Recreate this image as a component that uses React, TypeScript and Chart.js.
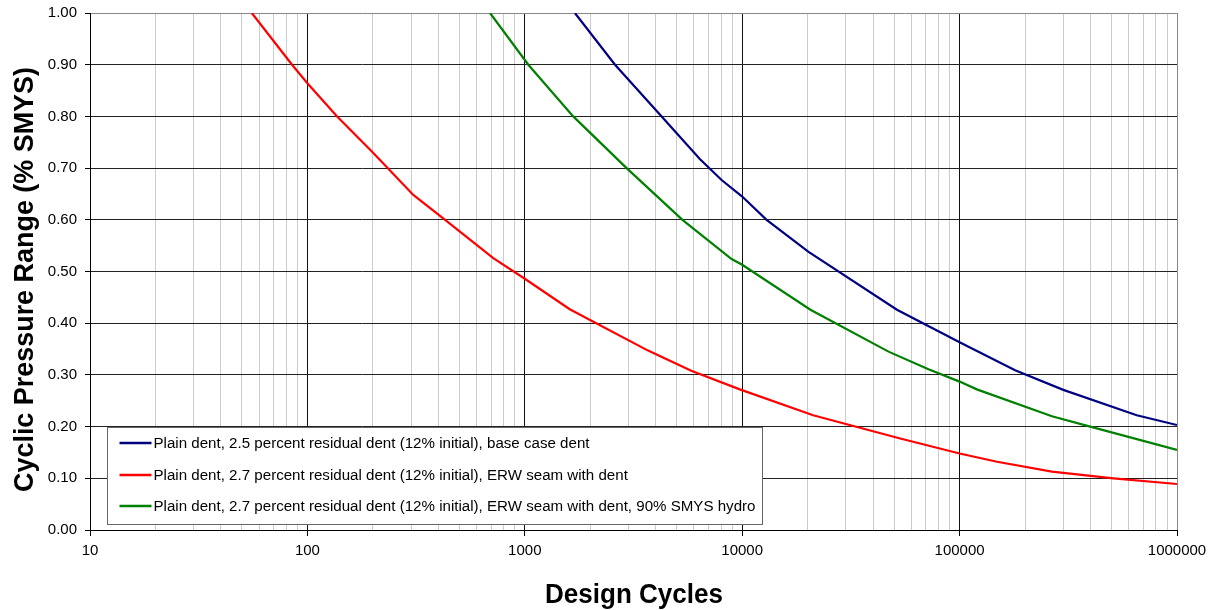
import React, { useEffect, useRef } from "react";
import { Chart, registerables } from "chart.js";

Chart.register(...registerables);

const FONT = '"Liberation Sans", Arial, sans-serif';

const seriesLabels = [
  "Plain dent, 2.5 percent residual dent (12% initial), base case dent",
  "Plain dent, 2.7 percent residual dent (12% initial), ERW seam with dent",
  "Plain dent, 2.7 percent residual dent (12% initial), ERW seam with dent, 90% SMYS hydro",
];
const seriesColors = ["#000080", "#ff0000", "#008000"];

const baseCycles = [1700, 2600, 4190, 6400, 8040, 10000, 12950, 20200, 51500, 100000, 180000, 300000, 653000, 1000000];
const baseRange = [1.0, 0.9, 0.803, 0.717, 0.677, 0.645, 0.6, 0.538, 0.426, 0.363, 0.309, 0.271, 0.222, 0.203];

const erwCycles = [55.5, 85, 100, 137, 198, 307, 430, 716, 1000, 1610, 3690, 5830, 9750, 21200, 53300, 100000, 148600, 266000, 510000, 1000000];
const erwRange = [1.0, 0.9, 0.864, 0.8, 0.732, 0.648, 0.6, 0.526, 0.486, 0.427, 0.347, 0.308, 0.272, 0.222, 0.177, 0.148, 0.132, 0.113, 0.1, 0.089];

const hydroCycles = [692, 1038, 1670, 2940, 5310, 8940, 10000, 20600, 47100, 71900, 100000, 120000, 266000, 391000, 1000000];
const hydroRange = [1.0, 0.9, 0.8, 0.7, 0.6, 0.524, 0.513, 0.426, 0.345, 0.311, 0.287, 0.272, 0.22, 0.201, 0.155];

const xMin = 10;
const xMax = 1000000;
const yMin = 0;
const yMax = 1;
const yStep = 0.1;

const xTitle = "Design Cycles";
const yTitle = "Cyclic Pressure Range (% SMYS)";

function toPoints(xs: number[], ys: number[]) {
  return xs.map((x, i) => ({ x, y: ys[i] }));
}

function isPow10(v: number) {
  const l = Math.log10(v);
  return Math.abs(l - Math.round(l)) < 1e-9;
}

const decorPlugin = {
  id: "decor",
  afterDatasetsDraw(chart: any) {
    const { ctx, chartArea } = chart;
    const boxL = chartArea.left + 17.5;
    const boxT = chartArea.bottom - 102.5;
    const boxW = 655;
    const boxH = 97;
    ctx.save();
    ctx.fillStyle = "#ffffff";
    ctx.fillRect(boxL, boxT, boxW, boxH);
    ctx.strokeStyle = "#666666";
    ctx.lineWidth = 1;
    ctx.strokeRect(boxL, boxT, boxW, boxH);
    ctx.font = `14px ${FONT}`;
    const widest = Math.max(...seriesLabels.map((s) => ctx.measureText(s).width));
    const sx = 602 / widest;
    const rowOffsets = [15.5, 47.5, 78.5];
    chart.data.datasets.forEach((ds: any, i: number) => {
      const y = boxT + rowOffsets[i];
      ctx.strokeStyle = ds.borderColor;
      ctx.lineWidth = 2.5;
      ctx.beginPath();
      ctx.moveTo(boxL + 12, y);
      ctx.lineTo(boxL + 44, y);
      ctx.stroke();
      ctx.save();
      ctx.translate(boxL + 46, y);
      ctx.scale(sx, 1);
      ctx.fillStyle = "#000";
      ctx.textAlign = "left";
      ctx.textBaseline = "middle";
      ctx.fillText(ds.label, 0, 1);
      ctx.restore();
    });
    ctx.restore();
  },
  afterDraw(chart: any) {
    const { ctx, chartArea } = chart;
    ctx.save();
    ctx.fillStyle = "#000";
    ctx.font = `bold 27px ${FONT}`;
    ctx.textAlign = "center";
    ctx.textBaseline = "alphabetic";
    const wx = ctx.measureText(xTitle).width;
    ctx.save();
    ctx.translate((chartArea.left + chartArea.right) / 2 + 0.5, chartArea.bottom + 73);
    ctx.scale(178 / wx, 1);
    ctx.fillText(xTitle, 0, 0);
    ctx.restore();
    const wy = ctx.measureText(yTitle).width;
    ctx.save();
    ctx.translate(chartArea.left - 57, (chartArea.top + chartArea.bottom) / 2 + 8);
    ctx.rotate(-Math.PI / 2);
    ctx.scale(425 / wy, 1);
    ctx.fillText(yTitle, 0, 0);
    ctx.restore();
    ctx.restore();
  },
};

export default function App() {
  const canvasRef = useRef<HTMLCanvasElement | null>(null);

  useEffect(() => {
    const canvas = canvasRef.current;
    if (!canvas) return;
    const chart = new Chart(canvas, {
      type: "line",
      data: {
        datasets: [
          { label: seriesLabels[0], data: toPoints(baseCycles, baseRange), borderColor: seriesColors[0], backgroundColor: seriesColors[0] },
          { label: seriesLabels[1], data: toPoints(erwCycles, erwRange), borderColor: seriesColors[1], backgroundColor: seriesColors[1] },
          { label: seriesLabels[2], data: toPoints(hydroCycles, hydroRange), borderColor: seriesColors[2], backgroundColor: seriesColors[2] },
        ].map((d) => ({ ...d, borderWidth: 2.2, pointRadius: 0, tension: 0, fill: false })),
      },
      options: {
        responsive: false,
        animation: false,
        layout: { padding: { left: 0, top: 13, right: 41, bottom: 0 } },
        plugins: {
          legend: { display: false },
          tooltip: { enabled: false },
        },
        scales: {
          x: {
            type: "logarithmic",
            min: xMin,
            max: xMax,
            afterFit: (scale: any) => {
              scale.height = 80;
              scale.paddingLeft = 0;
              scale.paddingRight = 0;
            },
            afterBuildTicks: (scale: any) => {
              scale.ticks = scale.ticks.filter((t: any) => {
                const p = Math.pow(10, Math.floor(Math.log10(t.value) + 1e-9));
                const r = t.value / p;
                return Math.abs(r - Math.round(r)) < 1e-6;
              });
            },
            ticks: {
              autoSkip: false,
              maxRotation: 0,
              minRotation: 0,
              padding: 6,
              color: "#000",
              font: { family: FONT, size: 15 },
              callback: (v: any) => (isPow10(Number(v)) ? String(Math.round(Number(v))) : ""),
            },
            grid: {
              tickLength: 6,
              color: (c: any) => {
                const v = c.tick ? c.tick.value : 0;
                if (!isPow10(v)) return "#cccccc";
                return v === xMax ? "#888888" : "#111111";
              },
              tickColor: (c: any) => (c.tick && isPow10(c.tick.value) ? "#000" : "rgba(0,0,0,0)"),
            },
            border: { color: "#000", width: 1 },
          },
          y: {
            type: "linear",
            min: yMin,
            max: yMax,
            afterFit: (scale: any) => {
              scale.width = 90;
              scale.paddingTop = 0;
              scale.paddingBottom = 0;
            },
            ticks: {
              stepSize: yStep,
              padding: 8,
              color: "#000",
              font: { family: FONT, size: 15 },
              callback: (v: any) => Number(v).toFixed(2),
            },
            grid: {
              tickLength: 5,
              color: (c: any) => (c.tick && Math.abs(c.tick.value - yMax) < 1e-9 ? "#888888" : "#222222"),
              tickColor: "#000",
            },
            border: { color: "#000", width: 1 },
          },
        },
      },
      plugins: [decorPlugin],
    } as any);
    return () => chart.destroy();
  }, []);

  return (
    <canvas
      ref={canvasRef}
      width={1218}
      height={610}
      style={{ position: "fixed", left: 0, top: 0, width: 1218, height: 610, display: "block", background: "#fff" }}
    />
  );
}
